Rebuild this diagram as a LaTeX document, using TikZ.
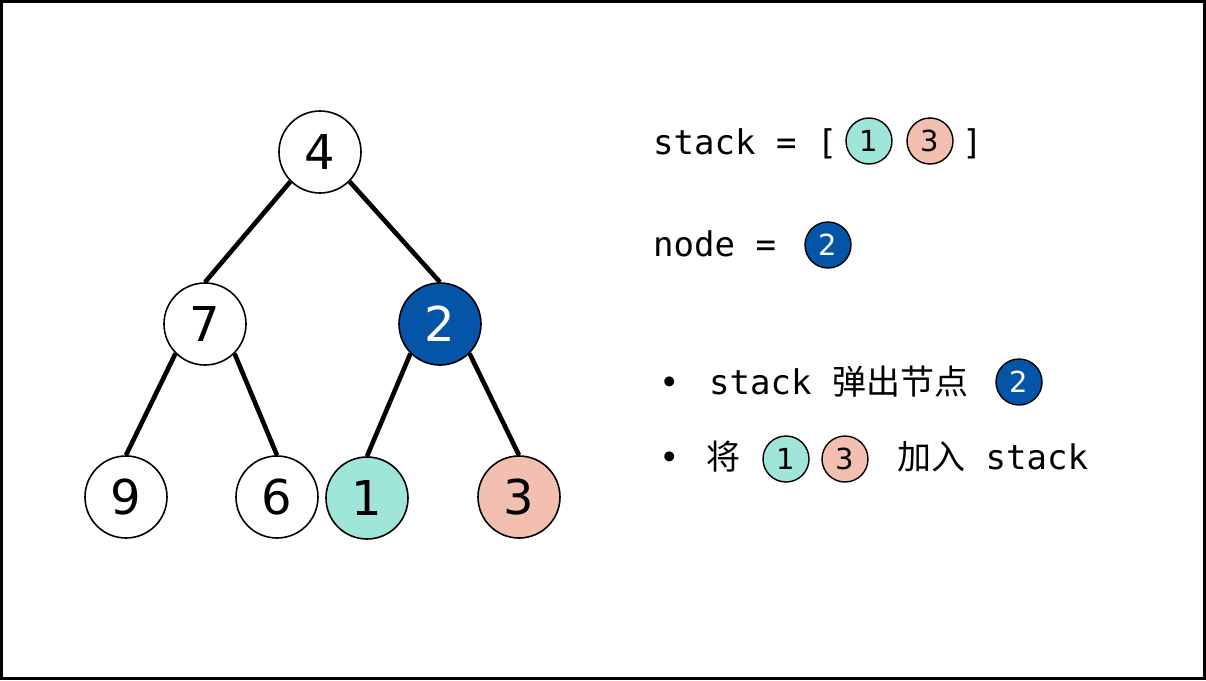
\documentclass[tikz,border=0pt]{standalone}
\usepackage{fontspec}
\setmainfont{DejaVu Sans}
\setmonofont{DejaVu Sans Mono}
\newfontfamily\cjk{Noto Sans CJK SC}
\definecolor{tealfill}{HTML}{A0E5DA}
\definecolor{salmonfill}{HTML}{F3BFB0}
\definecolor{bluefill}{HTML}{0455A8}
\tikzset{
  treenode/.style={circle, draw, line width=1.6pt, minimum size=82pt, inner sep=0pt, fill=white, font=\fontsize{48}{50}\selectfont},
  smallnode/.style={circle, draw, line width=1.4pt, minimum size=46pt, inner sep=0pt, font=\fontsize{29}{30}\selectfont},
  label/.style={anchor=base west, inner sep=0pt, font=\fontsize{34}{40}\selectfont\ttfamily},
  edge/.style={line width=4.6pt}
}
\begin{document}
\begin{tikzpicture}[x=1pt,y=-1pt]
\useasboundingbox (0,0) rectangle (1206,680);
\draw[line width=3pt] (1.5,1.5) rectangle (1204.5,678.5);

% tree
\node[treenode] (n4) at (320,152) {4};
\node[treenode] (n7) at (205,324) {7};
\node[treenode, fill=bluefill, text=white] (n2) at (440,324) {2};
\node[treenode] (n9) at (126,497) {9};
\node[treenode] (n6) at (277,497) {6};
\node[treenode, fill=tealfill] (n1) at (367,498) {1};
\node[treenode, fill=salmonfill] (n3) at (519,497) {3};

\draw[edge] (n4.south west) -- (n7.north);
\draw[edge] (n4.south east) -- (n2.north);
\draw[edge] (n7.south west) -- (n9.north);
\draw[edge] (n7.south east) -- (n6.north);
\draw[edge] (n2.south west) -- (n1.north);
\draw[edge] (n2.south east) -- (n3.north);

% stack and node
\node[label] (stacktxt) at (653,154) {stack = [};
\node[smallnode, fill=tealfill] (s1) at (869,141) {1};
\node[smallnode, fill=salmonfill] (s3) at (930,141) {3};
\node[label] (close) at (962,154) {]};
\node[label] (nodetxt) at (653,256) {node =};
\node[smallnode, fill=bluefill, text=white] (cur) at (828,245) {2};

% steps
\node[label] (dot1) at (659,394) {•};
\node[label] (pop) at (709,394) {stack {\cjk 弹出节点}};
\node[smallnode, fill=bluefill, text=white] (popnode) at (1019,382) {2};
\node[label] (dot2) at (659,469) {•};
\node[label] (push) at (706,469) {{\cjk 将}};
\node[smallnode, fill=tealfill] (p1) at (786,459) {1};
\node[smallnode, fill=salmonfill] (p3) at (845,459) {3};
\node[label] (pushtxt) at (897,469) {{\cjk 加入} stack};
\end{tikzpicture}
\end{document}
